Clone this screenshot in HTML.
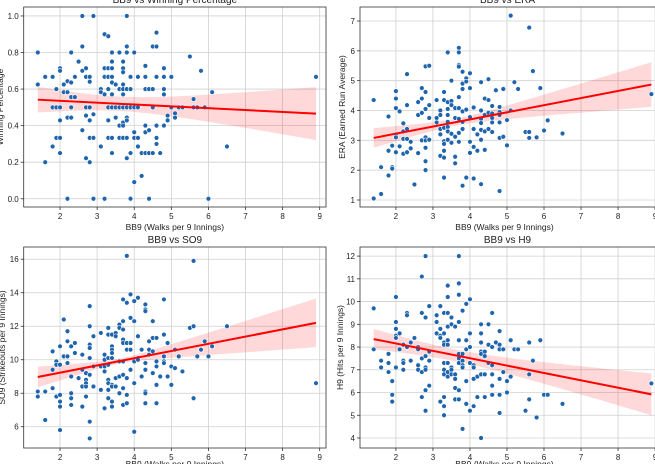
<!DOCTYPE html>
<html><head><meta charset="utf-8"><style>
html,body{margin:0;padding:0;background:#fff;}
svg{display:block;font-family:"Liberation Sans","DejaVu Sans",sans-serif;}
</style></head><body>
<svg id="c" width="655" height="464" viewBox="0 0 655 464"></svg>
<script>
const xTicks=[2,3,4,5,6,7,8,9];
const bb9_1=[1.4,1.4,1.6,1.6,1.8,1.8,1.8,1.9,1.9,1.9,2.0,2.0,2.0,2.0,2.0,2.0,2.1,2.1,2.2,2.2,2.2,2.2,2.3,2.3,2.3,2.3,2.3,2.4,2.4,2.5,2.6,2.6,2.6,2.6,2.7,2.7,2.7,2.7,2.7,2.8,2.8,2.8,2.8,2.8,2.8,2.9,2.9,2.9,2.9,3.1,3.1,3.1,3.2,3.2,3.2,3.2,3.2,3.3,3.3,3.3,3.3,3.3,3.3,3.3,3.4,3.4,3.4,3.4,3.4,3.4,3.4,3.4,3.4,3.5,3.5,3.5,3.6,3.6,3.6,3.6,3.6,3.7,3.7,3.7,3.7,3.7,3.7,3.7,3.7,3.7,3.7,3.8,3.8,3.8,3.8,3.8,3.8,3.8,3.8,3.8,3.9,3.9,3.9,3.9,3.9,4.0,4.0,4.0,4.0,4.0,4.1,4.1,4.1,4.1,4.2,4.2,4.3,4.3,4.3,4.3,4.3,4.3,4.4,4.4,4.4,4.4,4.5,4.5,4.5,4.5,4.6,4.6,4.6,4.6,4.6,4.6,4.7,4.8,4.8,4.8,4.8,4.8,4.9,4.9,5.0,5.0,5.1,5.1,5.2,5.3,5.5,5.6,5.6,5.7,5.8,5.9,6.0,6.1,6.5,8.9];
const winPct=[0.8,0.625,0.667,0.2,0.667,0.5,0.286,0.6,0.5,0.333,0.714,0.7,0.5,0.429,0.333,0.25,0.625,0.583,0.643,0.583,0.444,0.0,0.8,0.636,0.556,0.5,0.444,0.667,0.556,0.75,1.0,0.833,0.7,0.375,0.714,0.667,0.5,0.455,0.222,0.667,0.64,0.5,0.429,0.333,0.2,1.0,0.462,0.333,0.0,0.6,0.583,0.286,0.9,0.714,0.667,0.571,0.0,0.889,0.714,0.667,0.6,0.5,0.429,0.333,0.8,0.75,0.714,0.667,0.636,0.571,0.5,0.333,0.25,0.625,0.5,0.444,0.8,0.6,0.5,0.4,0.333,0.75,0.714,0.692,0.625,0.6,0.571,0.5,0.417,0.4,0.333,1.0,0.833,0.8,0.6,0.5,0.444,0.429,0.333,0.222,0.667,0.6,0.5,0.25,0.0,0.8,0.5,0.364,0.333,0.091,0.667,0.5,0.333,0.286,0.25,0.125,0.727,0.667,0.6,0.4,0.364,0.25,0.6,0.375,0.25,0.0,0.833,0.6,0.5,0.25,0.909,0.833,0.667,0.4,0.333,0.3,0.25,0.714,0.667,0.6,0.571,0.4,0.455,0.429,0.667,0.5,0.467,0.444,0.5,0.5,0.778,0.545,0.5,0.5,0.7,0.5,0.0,0.583,0.286,0.667];
const bb9_2=[1.4,1.4,1.6,1.6,1.8,1.8,1.8,1.9,1.9,1.9,2.0,2.0,2.0,2.0,2.0,2.0,2.1,2.1,2.2,2.2,2.2,2.2,2.3,2.3,2.3,2.3,2.3,2.4,2.4,2.5,2.6,2.6,2.6,2.7,2.7,2.7,2.7,2.8,2.8,2.8,2.8,2.8,2.8,2.8,2.8,2.9,2.9,2.9,2.9,3.1,3.1,3.1,3.2,3.2,3.2,3.2,3.2,3.3,3.3,3.3,3.3,3.3,3.3,3.3,3.3,3.4,3.4,3.4,3.4,3.4,3.4,3.4,3.4,3.5,3.5,3.5,3.5,3.5,3.6,3.6,3.6,3.6,3.6,3.7,3.7,3.7,3.7,3.7,3.7,3.7,3.7,3.7,3.8,3.8,3.8,3.8,3.8,3.8,3.8,3.9,3.9,3.9,3.9,4.0,4.0,4.0,4.0,4.0,4.1,4.1,4.1,4.1,4.2,4.2,4.3,4.3,4.3,4.3,4.3,4.3,4.3,4.4,4.4,4.4,4.4,4.5,4.5,4.5,4.5,4.6,4.6,4.6,4.6,4.6,4.7,4.8,4.8,4.8,4.8,4.8,4.8,4.9,4.9,5.0,5.0,5.1,5.1,5.2,5.3,5.5,5.6,5.6,5.6,5.7,5.8,5.9,6.0,6.1,6.5,8.9];
const era=[4.35,1.05,1.2,2.1,3.8,2.65,1.82,2.82,2.1,2.05,4.65,4.4,4.08,3.2,3.1,2.6,3.97,2.8,3.57,3.3,3.05,2.55,5.22,4.18,3.38,3.05,2.6,2.95,2.73,1.52,4.28,3.85,2.57,4.75,4.4,3.92,3.0,5.48,4.62,4.05,3.1,2.75,2.3,2.0,3.0,5.5,4.18,3.75,3.02,4.35,3.75,3.6,4.0,3.85,3.38,3.2,2.48,4.62,4.35,3.42,2.97,2.88,2.65,2.42,1.75,5.95,4.28,4.05,3.85,3.62,3.45,3.3,3.02,5.0,4.32,4.18,3.22,2.92,4.08,3.75,3.12,2.45,2.23,6.1,5.95,5.52,5.47,4.45,4.08,3.72,3.25,2.95,5.3,4.9,4.72,3.97,3.62,3.38,1.48,5.08,4.97,4.03,1.75,5.25,4.75,3.78,2.95,2.58,4.1,3.38,2.78,1.72,3.2,2.65,4.95,4.0,3.72,3.58,3.35,3.02,1.53,4.4,3.85,3.3,2.68,5.05,4.35,3.92,3.38,4.15,3.9,3.75,3.6,3.28,4.68,4.12,3.95,3.85,3.6,3.08,1.3,4.72,3.12,3.68,2.83,7.18,4.0,4.95,4.72,3.28,6.78,3.28,3.08,5.32,3.1,4.75,3.33,3.67,3.23,4.55];
const bb9_3=[1.4,1.4,1.6,1.6,1.8,1.8,1.8,1.9,1.9,1.9,2.0,2.0,2.0,2.0,2.0,2.0,2.1,2.1,2.2,2.2,2.2,2.2,2.3,2.3,2.3,2.3,2.3,2.4,2.4,2.5,2.6,2.6,2.6,2.6,2.7,2.7,2.7,2.7,2.7,2.8,2.8,2.8,2.8,2.8,2.8,2.8,2.8,2.9,2.9,2.9,3.1,3.1,3.1,3.2,3.2,3.2,3.2,3.2,3.3,3.3,3.3,3.3,3.3,3.3,3.3,3.3,3.4,3.4,3.4,3.4,3.4,3.4,3.4,3.4,3.4,3.5,3.5,3.5,3.5,3.6,3.6,3.6,3.6,3.6,3.7,3.7,3.7,3.7,3.7,3.7,3.7,3.7,3.7,3.8,3.8,3.8,3.8,3.8,3.8,3.8,3.9,3.9,3.9,3.9,3.9,4.0,4.0,4.0,4.0,4.0,4.1,4.1,4.1,4.1,4.2,4.2,4.3,4.3,4.3,4.3,4.3,4.3,4.3,4.3,4.4,4.4,4.4,4.5,4.5,4.5,4.5,4.6,4.6,4.6,4.6,4.6,4.7,4.8,4.8,4.8,4.8,4.8,4.9,4.9,5.0,5.0,5.1,5.1,5.2,5.3,5.5,5.6,5.6,5.6,5.7,5.8,5.9,6.0,6.1,6.5,8.9];
const so9=[8.1,7.8,8.1,6.4,10.5,9.4,8.3,9.9,9.7,7.8,10.8,9.7,7.9,7.5,7.2,5.8,12.4,10.2,11.7,11.1,10.2,9.8,10.8,9.0,8.0,7.7,7.3,11.0,10.4,8.9,10.3,9.4,8.4,7.2,9.2,8.8,8.6,8.4,7.8,13.2,12.0,10.9,10.7,10.1,9.1,6.3,5.3,11.4,9.6,8.4,11.6,9.6,8.2,10.3,10.0,9.6,9.3,7.1,11.9,11.5,10.1,9.7,8.8,8.6,8.2,7.7,11.5,10.8,10.6,10.4,10.1,8.5,8.4,7.5,7.2,11.6,11.4,8.9,8.4,12.1,11.9,9.9,9.0,8.0,13.6,12.3,11.8,11.2,11.0,9.9,9.1,8.3,7.3,16.2,13.4,11.0,10.6,8.9,7.9,7.4,13.9,12.5,11.0,10.6,9.4,13.5,12.3,9.9,8.6,5.7,13.7,11.4,10.1,10.0,10.6,9.0,13.3,13.0,12.9,9.8,9.4,8.1,8.0,7.4,11.1,10.6,10.3,12.3,11.3,10.5,9.2,11.3,9.9,9.6,8.5,7.4,9.0,13.6,11.5,10.2,9.9,9.8,11.0,9.0,9.6,8.5,10.6,9.5,10.2,9.3,11.9,15.9,12.0,7.7,10.2,10.6,11.1,10.2,10.8,12.0,8.6];
const bb9_4=[1.4,1.4,1.6,1.6,1.8,1.8,1.8,1.9,1.9,1.9,2.0,2.0,2.0,2.0,2.0,2.0,2.1,2.1,2.2,2.2,2.2,2.2,2.3,2.3,2.3,2.4,2.4,2.5,2.6,2.6,2.6,2.6,2.7,2.7,2.7,2.7,2.7,2.8,2.8,2.8,2.8,2.8,2.8,2.8,2.9,2.9,2.9,2.9,3.1,3.1,3.1,3.2,3.2,3.2,3.2,3.2,3.3,3.3,3.3,3.3,3.3,3.3,3.3,3.3,3.3,3.3,3.4,3.4,3.4,3.4,3.4,3.4,3.4,3.4,3.4,3.5,3.5,3.5,3.5,3.5,3.6,3.6,3.6,3.6,3.6,3.7,3.7,3.7,3.7,3.7,3.7,3.7,3.7,3.7,3.7,3.8,3.8,3.8,3.8,3.8,3.8,3.9,3.9,3.9,3.9,3.9,4.0,4.0,4.0,4.0,4.0,4.1,4.1,4.1,4.1,4.2,4.2,4.3,4.3,4.3,4.3,4.3,4.3,4.3,4.4,4.4,4.4,4.4,4.5,4.5,4.5,4.6,4.6,4.6,4.6,4.6,4.6,4.7,4.8,4.8,4.8,4.8,4.8,4.8,4.9,4.9,5.0,5.0,5.1,5.1,5.2,5.3,5.5,5.6,5.6,5.6,5.7,5.8,5.9,6.0,6.1,6.5,8.9];
const h9=[9.7,7.9,7.4,7.1,7.7,7.3,6.9,6.5,5.9,5.6,10.2,9.1,8.8,8.5,8.4,7.1,8.6,7.9,8.1,7.4,7.3,7.0,9.5,9.4,8.0,8.2,7.4,8.4,8.0,7.9,7.2,7.0,11.1,9.5,7.5,6.9,5.8,12.0,9.3,7.6,7.1,7.0,6.1,5.2,9.8,7.8,7.4,6.3,9.4,9.1,8.6,9.8,8.8,8.5,8.4,5.6,9.5,8.6,8.2,8.1,7.3,7.0,6.8,5.8,5.4,5.0,10.7,10.2,9.5,8.9,8.3,8.1,7.3,6.9,6.7,9.3,9.0,7.1,7.0,6.8,8.9,6.8,6.6,6.2,5.7,12.0,10.8,10.3,9.1,8.3,7.7,7.5,7.3,6.1,5.7,9.6,7.7,7.4,7.2,7.1,4.4,9.9,8.3,7.9,6.5,5.5,10.1,8.6,8.0,7.3,5.2,7.2,7.1,6.6,5.4,6.7,5.8,9.0,8.6,8.2,7.8,7.7,6.8,4.0,7.8,7.6,6.8,5.8,9.0,8.1,7.3,9.5,8.0,7.2,6.8,6.3,5.9,8.2,8.7,8.1,7.9,6.6,5.9,5.1,7.9,6.9,6.5,6.0,8.3,6.7,7.9,7.9,5.2,8.2,6.8,5.7,7.4,4.9,8.3,5.9,5.9,5.5,6.4];
const fit1=[0.542,0.466], ci1=[0.0395,1.5,3.6];
const fit2=[3.08,4.87], ci2=[0.12,0.86,3.6];
const fit3=[8.97,12.2], ci3=[0.15,0.55,3.6];
const fit4=[8.35,5.92], ci4=[0.262,1.58,3.6];
const yTicks1=[0,0.2,0.4,0.6,0.8,1.0], yLab1=["0.0","0.2","0.4","0.6","0.8","1.0"];
const yTicks2=[1,2,3,4,5,6,7];
const yTicks3=[6,8,10,12,14,16];
const yTicks4=[4,5,6,7,8,9,10,11,12];

const NS="http://www.w3.org/2000/svg";
const svg=document.getElementById('c');
function mk(tag,attrs,parent){const e=document.createElementNS(NS,tag);for(const k in attrs)e.setAttribute(k,attrs[k]);(parent||svg).appendChild(e);return e;}

function panel(o){
  const g=mk('g',{});
  
  
  const L=o.box[0],T=o.box[1],R=o.box[2],B=o.box[3];
  const sx=v=>L+(v-o.xlim[0])/(o.xlim[1]-o.xlim[0])*(R-L);
  const sy=v=>B-(v-o.ylim[0])/(o.ylim[1]-o.ylim[0])*(B-T);
  o.xt.forEach(t=>{const l=mk('line',{x1:sx(t),x2:sx(t),y1:T,y2:B,stroke:'#d0d0d0','stroke-width':0.8},g);});
  o.yt.forEach(t=>{const l=mk('line',{x1:L,x2:R,y1:sy(t),y2:sy(t),stroke:'#d0d0d0','stroke-width':0.8},g);});
  const xs=[];for(let i=0;i<=60;i++)xs.push(1.4+i*(8.9-1.4)/60);
  const fy=x=>o.fit[0]+(o.fit[1]-o.fit[0])*(x-1.4)/(8.9-1.4);
  const hw=x=>o.ci[0]*Math.sqrt(1+Math.pow((x-o.ci[2])/o.ci[1],2));
  let d='M'+xs.map(x=>sx(x)+','+sy(fy(x)+hw(x))).join('L')+'L'+xs.slice().reverse().map(x=>sx(x)+','+sy(fy(x)-hw(x))).join('L')+'Z';
  const band=mk('path',{d:d,fill:'rgba(255,0,0,0.15)',stroke:'none'},g);
  
  o.xs.forEach((x,i)=>{const c=mk('circle',{cx:sx(x),cy:sy(o.ys[i]),r:2.4,fill:'#1f65ad',stroke:'#fff','stroke-width':0.6},g);
    });
  const rl=mk('line',{x1:sx(1.4),y1:sy(o.fit[0]),x2:sx(8.9),y2:sy(o.fit[1]),stroke:'#ff0000','stroke-width':2},g);
  
  const fr=mk('rect',{x:L,y:T,width:R-L,height:B-T,fill:'none',stroke:'#333','stroke-width':0.8},g);
  
  o.xt.forEach(t=>{mk('line',{x1:sx(t),x2:sx(t),y1:B,y2:B+3,stroke:'#333','stroke-width':0.8},g);
    const tx=mk('text',{x:sx(t),y:B+12,'font-size':8,'text-anchor':'middle',fill:'#222'},g);tx.textContent=t;
    });
  o.yt.forEach((t,i)=>{mk('line',{x1:L-3,x2:L,y1:sy(t),y2:sy(t),stroke:'#333','stroke-width':0.8},g);
    const tx=mk('text',{x:L-5,y:sy(t)+3,'font-size':8,'text-anchor':'end',fill:'#222'},g);tx.textContent=o.yl?o.yl[i]:t;
    });
  const xl=mk('text',{x:(L+Math.min(R,655))/2+(R>655?-3:0),y:Math.min(B+23,467),'font-size':8.5,'text-anchor':'middle',fill:'#222'},g);
  xl.textContent='BB9 (Walks per 9 Innings)';
  const yx=o.ylx,yy=(T+B)/2;
  const yl=mk('text',{x:yx,y:yy,'font-size':8.5,'text-anchor':'middle',fill:'#222',transform:'rotate(-90 '+yx+' '+yy+')'},g);
  yl.textContent=o.ytitle;
  const ti=mk('text',{x:(L+R)/2-(R>655?3:0),y:T-4,'font-size':10,'text-anchor':'middle',fill:'#222'},g);
  ti.textContent=o.title;
}
panel({name:'panel-winning-percentage',box:[23.7,7,326,207],xlim:[1.02,9.17],ylim:[-0.045,1.049],xt:xTicks,yt:yTicks1,yl:yLab1,xs:bb9_1,ys:winPct,fit:fit1,ci:ci1,ylx:3,ytitle:'Winning Percentage',title:'BB9 vs Winning Percentage'});
panel({name:'panel-era',box:[360,7,661,207],xlim:[1.03,9.16],ylim:[0.765,7.47],xt:xTicks,yt:yTicks2,xs:bb9_2,ys:era,fit:fit2,ci:ci2,ylx:345,ytitle:'ERA (Earned Run Average)',title:'BB9 vs ERA'});
panel({name:'panel-so9',box:[23.7,247,326,448],xlim:[1.02,9.17],ylim:[4.73,16.73],xt:xTicks,yt:yTicks3,xs:bb9_3,ys:so9,fit:fit3,ci:ci3,ylx:5,ytitle:'SO9 (Strikeouts per 9 Innings)',title:'BB9 vs SO9'});
panel({name:'panel-h9',box:[360,247,661,448],xlim:[1.03,9.16],ylim:[3.56,12.4],xt:xTicks,yt:yTicks4,xs:bb9_4,ys:h9,fit:fit4,ci:ci4,ylx:343,ytitle:'H9 (Hits per 9 Innings)',title:'BB9 vs H9'});
</script>
</body></html>
